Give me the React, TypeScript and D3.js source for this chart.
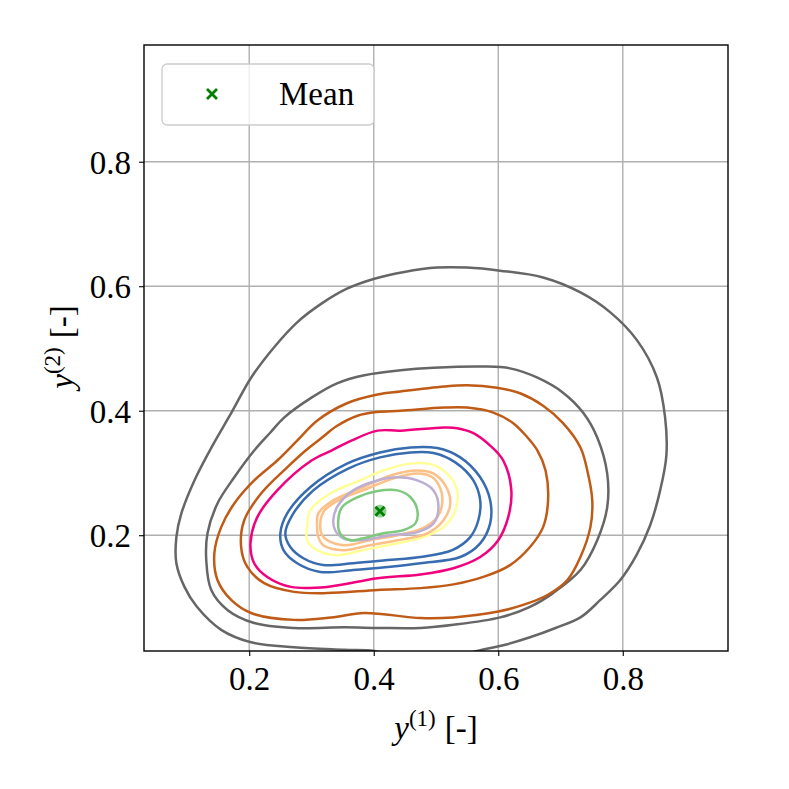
import React, { useEffect, useRef } from 'react'
import * as d3 from 'd3'

type Pt = [number, number]

// axis setup
const xDomain: [number, number] = [0.031, 0.969]
const yDomain: [number, number] = [0.014, 0.9875]
const xTicks = [0.2, 0.4, 0.6, 0.8]
const yTicks = [0.2, 0.4, 0.6, 0.8]

// contour levels, outermost first
const grayOuter: Pt[] = [
  [0.083, 0.197], [0.091, 0.235], [0.112, 0.288], [0.141, 0.344], [0.171, 0.396],
  [0.203, 0.453], [0.240, 0.502], [0.277, 0.542], [0.316, 0.572], [0.357, 0.596],
  [0.401, 0.612], [0.449, 0.623], [0.502, 0.630], [0.550, 0.630], [0.603, 0.625],
  [0.672, 0.614], [0.732, 0.590], [0.780, 0.558], [0.823, 0.513], [0.855, 0.453],
  [0.868, 0.389], [0.870, 0.328], [0.860, 0.272], [0.844, 0.216], [0.822, 0.168],
  [0.796, 0.128], [0.764, 0.096], [0.732, 0.068], [0.692, 0.051], [0.651, 0.036],
  [0.611, 0.024], [0.566, 0.014], [0.523, 0.003], [0.475, -0.004], [0.435, 0.003],
  [0.401, 0.014], [0.353, 0.016], [0.272, 0.020], [0.203, 0.028], [0.155, 0.048],
  [0.116, 0.085], [0.096, 0.117], [0.083, 0.155],
]
const grayInner: Pt[] = [
  [0.133, 0.203], [0.149, 0.251], [0.176, 0.293], [0.208, 0.336], [0.234, 0.365],
  [0.256, 0.389], [0.300, 0.421], [0.341, 0.444], [0.385, 0.457], [0.443, 0.465],
  [0.496, 0.469], [0.576, 0.471], [0.619, 0.468], [0.663, 0.453], [0.704, 0.429],
  [0.737, 0.396], [0.759, 0.357], [0.775, 0.299], [0.775, 0.245], [0.759, 0.192],
  [0.732, 0.144], [0.688, 0.107], [0.651, 0.085], [0.603, 0.068], [0.528, 0.056],
  [0.475, 0.051], [0.410, 0.051], [0.353, 0.052], [0.272, 0.051], [0.208, 0.059],
  [0.165, 0.080], [0.139, 0.112], [0.131, 0.160],
]
const brownOuter: Pt[] = [
  [0.144, 0.171], [0.155, 0.213], [0.176, 0.251], [0.208, 0.288], [0.245, 0.320],
  [0.277, 0.352], [0.309, 0.384], [0.357, 0.412], [0.406, 0.426], [0.443, 0.431],
  [0.513, 0.439], [0.550, 0.441], [0.598, 0.437], [0.635, 0.428], [0.672, 0.408],
  [0.704, 0.380], [0.732, 0.341], [0.743, 0.304], [0.751, 0.256], [0.748, 0.213],
  [0.732, 0.165], [0.711, 0.128], [0.679, 0.104], [0.640, 0.088], [0.598, 0.077],
  [0.528, 0.068], [0.475, 0.067], [0.385, 0.075], [0.332, 0.068], [0.272, 0.064],
  [0.203, 0.075], [0.171, 0.096], [0.149, 0.128],
]
const brownInner: Pt[] = [
  [0.187, 0.181], [0.192, 0.224], [0.219, 0.267], [0.261, 0.309], [0.293, 0.338],
  [0.316, 0.356], [0.340, 0.375], [0.374, 0.392], [0.406, 0.398], [0.443, 0.400],
  [0.513, 0.405], [0.550, 0.405], [0.592, 0.397], [0.624, 0.380], [0.647, 0.357],
  [0.663, 0.336], [0.676, 0.304], [0.680, 0.256], [0.672, 0.213], [0.651, 0.181],
  [0.619, 0.152], [0.576, 0.133], [0.528, 0.121], [0.475, 0.115], [0.406, 0.112],
  [0.325, 0.107], [0.272, 0.109], [0.224, 0.123], [0.197, 0.149],
]
const pinkLevel: Pt[] = [
  [0.202, 0.187], [0.213, 0.229], [0.245, 0.272], [0.300, 0.320], [0.332, 0.336],
  [0.364, 0.352], [0.406, 0.368], [0.443, 0.368], [0.513, 0.373], [0.534, 0.372],
  [0.560, 0.364], [0.587, 0.344], [0.608, 0.320], [0.621, 0.272], [0.616, 0.229],
  [0.600, 0.192], [0.571, 0.165], [0.528, 0.147], [0.475, 0.137], [0.406, 0.131],
  [0.325, 0.117], [0.267, 0.117], [0.229, 0.133], [0.208, 0.155],
]
const blueOuter: Pt[] = [
  [0.250, 0.203], [0.261, 0.235], [0.298, 0.277], [0.357, 0.315], [0.410, 0.333],
  [0.459, 0.341], [0.502, 0.340], [0.539, 0.325], [0.571, 0.293], [0.587, 0.256],
  [0.587, 0.219], [0.571, 0.187], [0.539, 0.165], [0.475, 0.155], [0.422, 0.149],
  [0.367, 0.144], [0.314, 0.141], [0.277, 0.155], [0.255, 0.176],
]
const blueInner: Pt[] = [
  [0.258, 0.203], [0.269, 0.232], [0.303, 0.272], [0.359, 0.307], [0.410, 0.325],
  [0.459, 0.333], [0.496, 0.332], [0.531, 0.317], [0.560, 0.288], [0.571, 0.256],
  [0.568, 0.224], [0.555, 0.197], [0.526, 0.176], [0.475, 0.165], [0.422, 0.160],
  [0.367, 0.155], [0.319, 0.152], [0.287, 0.163], [0.266, 0.181],
]
const yellowLevel: Pt[] = [
  [0.293, 0.213], [0.298, 0.240], [0.330, 0.267], [0.378, 0.288], [0.415, 0.304],
  [0.459, 0.315], [0.491, 0.314], [0.518, 0.299], [0.534, 0.272], [0.531, 0.240],
  [0.512, 0.213], [0.480, 0.197], [0.438, 0.187], [0.383, 0.176], [0.341, 0.168],
  [0.309, 0.176], [0.293, 0.192],
]
const orangeOuter: Pt[] = [
  [0.309, 0.213], [0.311, 0.235], [0.335, 0.256], [0.383, 0.277], [0.427, 0.296],
  [0.470, 0.304], [0.496, 0.299], [0.515, 0.280], [0.523, 0.251], [0.512, 0.224],
  [0.486, 0.203], [0.438, 0.192], [0.394, 0.184], [0.351, 0.176], [0.319, 0.184],
  [0.311, 0.197],
]
const orangeInner: Pt[] = [
  [0.314, 0.213], [0.319, 0.237], [0.343, 0.256], [0.390, 0.275], [0.431, 0.291],
  [0.470, 0.299], [0.494, 0.293], [0.507, 0.275], [0.510, 0.251], [0.502, 0.229],
  [0.478, 0.211], [0.438, 0.200], [0.394, 0.192], [0.354, 0.184], [0.325, 0.192],
  [0.317, 0.200],
]
const lavenderLevel: Pt[] = [
  [0.335, 0.224], [0.341, 0.245], [0.367, 0.272], [0.406, 0.288], [0.438, 0.293],
  [0.470, 0.288], [0.496, 0.272], [0.504, 0.245], [0.496, 0.219], [0.470, 0.205],
  [0.427, 0.200], [0.378, 0.192], [0.351, 0.195], [0.338, 0.208],
]
const greenLevel: Pt[] = [
  [0.343, 0.224], [0.349, 0.245], [0.374, 0.261], [0.406, 0.271], [0.438, 0.272],
  [0.459, 0.261], [0.470, 0.240], [0.467, 0.219], [0.447, 0.208], [0.415, 0.203],
  [0.383, 0.195], [0.362, 0.192], [0.346, 0.203],
]

const contours: Pt[][] = [
  grayOuter, grayInner, brownOuter, brownInner, pinkLevel, blueOuter,
  blueInner, yellowLevel, orangeOuter, orangeInner, lavenderLevel, greenLevel,
]
// Accent palette, reversed
const contourColors = [
  '#666666', '#666666', '#bf5b17', '#bf5b17', '#f0027f', '#386cb0',
  '#386cb0', '#ffff99', '#fdc086', '#fdc086', '#beaed4', '#7fc97f',
]

const meanPoint: Pt = [0.41, 0.2385]
const legendLabels = ['Mean']

const FONT = '"Liberation Serif", "DejaVu Serif", serif'

export default function App() {
  const svgRef = useRef<SVGSVGElement>(null)

  useEffect(() => {
    if (!svgRef.current) return
    const svg = d3.select(svgRef.current)
    svg.selectAll('*').remove()

    const margin = { top: 45, left: 144 }
    const width = 584
    const height = 606

    const x = d3.scaleLinear().domain(xDomain).range([0, width])
    const y = d3.scaleLinear().domain(yDomain).range([height, 0])

    svg.append('defs').append('clipPath').attr('id', 'plot-clip')
      .append('rect').attr('width', width).attr('height', height)

    const g = svg.append('g').attr('transform', `translate(${margin.left},${margin.top})`)

    // grid
    g.selectAll('.gx').data(xTicks).enter().append('line')
      .attr('x1', d => x(d)).attr('x2', d => x(d))
      .attr('y1', 0).attr('y2', height)
      .attr('stroke', '#b0b0b0').attr('stroke-width', 1.4)
    g.selectAll('.gy').data(yTicks).enter().append('line')
      .attr('x1', 0).attr('x2', width)
      .attr('y1', d => y(d)).attr('y2', d => y(d))
      .attr('stroke', '#b0b0b0').attr('stroke-width', 1.4)

    // contours
    const line = d3.line<Pt>()
      .x(d => x(d[0]))
      .y(d => y(d[1]))
      .curve(d3.curveCatmullRomClosed.alpha(0.5))

    const cg = g.append('g').attr('clip-path', 'url(#plot-clip)')
    contours.forEach((c, i) => {
      cg.append('path')
        .datum(c)
        .attr('d', line)
        .attr('fill', 'none')
        .attr('stroke', contourColors[i])
        .attr('stroke-width', 2.5)
        .attr('stroke-linejoin', 'round')
    })

    // mean marker
    const mx = x(meanPoint[0])
    const my = y(meanPoint[1])
    cg.append('circle').attr('cx', mx).attr('cy', my).attr('r', 6.5)
      .attr('fill', '#7fc97f').attr('opacity', 0.85)
    const cross = (sel: d3.Selection<SVGGElement, unknown, null, undefined>, cx: number, cy: number, s: number) => {
      sel.append('path')
        .attr('d', `M${cx - s},${cy - s}L${cx + s},${cy + s}M${cx - s},${cy + s}L${cx + s},${cy - s}`)
        .attr('stroke', 'green').attr('stroke-width', 2.8).attr('fill', 'none')
    }
    cross(cg, mx, my, 4.5)

    // spines
    g.append('rect').attr('width', width).attr('height', height)
      .attr('fill', 'none').attr('stroke', '#000').attr('stroke-width', 1.4)

    // axes
    const xAxis = g.append('g').attr('transform', `translate(0,${height})`)
      .call(d3.axisBottom(x).tickValues(xTicks).tickSize(5).tickPadding(9).tickFormat(d3.format('.1f')))
    const yAxis = g.append('g')
      .call(d3.axisLeft(y).tickValues(yTicks).tickSize(5).tickPadding(8).tickFormat(d3.format('.1f')))
    ;[xAxis, yAxis].forEach(ax => {
      ax.select('.domain').remove()
      ax.selectAll('line').attr('stroke', '#000').attr('stroke-width', 1.1)
      ax.selectAll('text').attr('fill', '#000').style('font-family', FONT).style('font-size', '33px')
    })
    xAxis.selectAll('text').attr('dy', '0.76em')
    yAxis.selectAll('text').attr('dy', '0.35em')

    // axis labels
    const xl = svg.append('text')
      .attr('x', margin.left + width / 2).attr('y', 739)
      .attr('text-anchor', 'middle')
      .style('font-family', FONT).style('font-size', '33px').attr('fill', '#000')
    xl.append('tspan').style('font-style', 'italic').text('y')
    xl.append('tspan').attr('dy', -13).style('font-size', '23px').text('(1)')
    xl.append('tspan').attr('dy', 13).attr('dx', 9).text('[-]')

    const yl = svg.append('text')
      .attr('transform', `translate(73,${margin.top + height / 2 - 1}) rotate(-90)`)
      .attr('text-anchor', 'middle')
      .style('font-family', FONT).style('font-size', '33px').attr('fill', '#000')
    yl.append('tspan').style('font-style', 'italic').text('y')
    yl.append('tspan').attr('dy', -13).style('font-size', '23px').text('(2)')
    yl.append('tspan').attr('dy', 13).attr('dx', 9).text('[-]')

    // legend
    const legend = svg.append('g').attr('transform', 'translate(162,64)')
    legend.append('rect').attr('width', 212).attr('height', 61).attr('rx', 5)
      .attr('fill', '#fff').attr('fill-opacity', 0.8)
      .attr('stroke', '#cccccc').attr('stroke-width', 1.3)
    cross(legend, 50, 30, 5)
    legend.selectAll('.lt').data(legendLabels).enter().append('text')
      .attr('x', 117).attr('y', 41)
      .style('font-family', FONT).style('font-size', '33px').attr('fill', '#000')
      .text(d => d)
  }, [])

  return (
    <div style={{ position: 'absolute', left: 0, top: 0 }}>
      <svg ref={svgRef} width={789} height={789} style={{ display: 'block', background: '#fff' }} />
    </div>
  )
}
